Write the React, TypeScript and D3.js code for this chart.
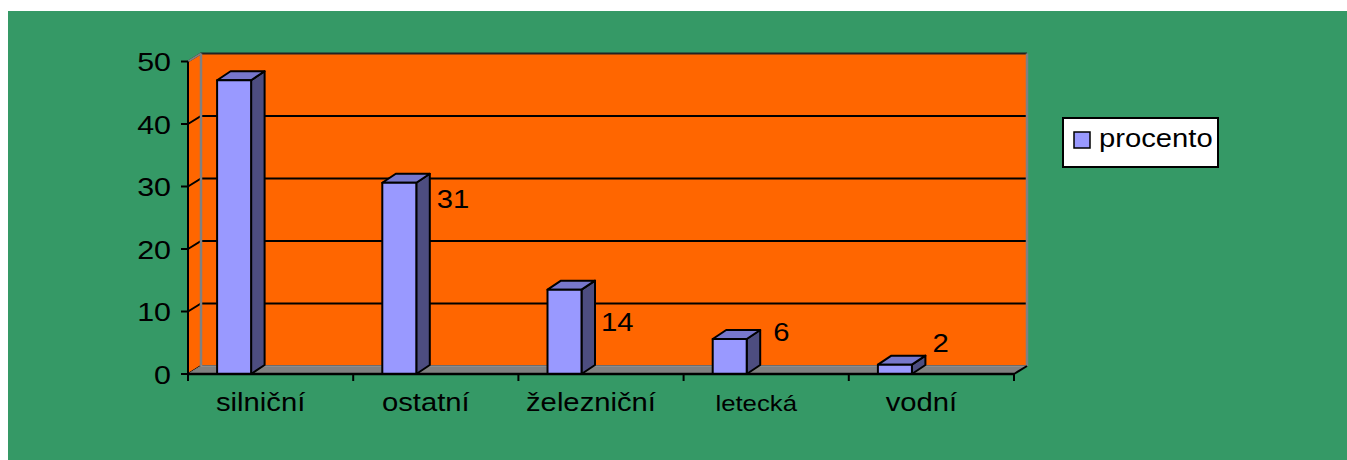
import React from "react";
import * as d3 from "d3";

// ---- data ----
const categories = ["silniční", "ostatní", "železniční", "letecká", "vodní"];
const procento = [47, 30.6, 13.5, 5.6, 1.5];
const labelVisible = [false, true, true, true, true];
const yTicks = [0, 10, 20, 30, 40, 50];
const seriesName = "procento";

// ---- style / layout constants ----
const W = 1347;
const H = 460;
const GREEN = "#359966";
const ORANGE = "#FF6600";
const GRAY = "#808080";
const BAR_FRONT = "#9999FF";
const BAR_SIDE = "#4D4D80";
const BAR_TOP = "#7777CC";
const FONT = "'Liberation Sans', Arial, sans-serif";
const SX = 1.17; // horizontal text stretch seen in the reference
const FS = 26;

const PLOT_LEFT = 188;
const PLOT_RIGHT = 1014;
const PLOT_BOTTOM = 374;
const PLOT_TOP = 61.5;
const WALL_DX = 13;
const WALL_DY = -8;
const BAR_DX = 13.5;
const BAR_DY = -9;
const BAR_OFFSET = -53.5; // front-left of bar relative to band centre
const BAR_W = 34;
// per-label nudges [dx from bar side, dy from bar front top]
const LABEL_NUDGE: [number, number][] = [
  [7, 25],
  [7, 25],
  [6, 41],
  [13, 2],
  [7, -13],
];
const CAT_FS: Record<string, number> = { "letecká": 22 };

export default function App() {
  const x = d3
    .scaleBand<string>()
    .domain(categories)
    .range([PLOT_LEFT, PLOT_RIGHT])
    .padding(0);
  const y = d3.scaleLinear().domain([0, 50]).range([PLOT_BOTTOM, PLOT_TOP]);
  const bw = x.bandwidth();
  const backL = PLOT_LEFT + WALL_DX;
  const backR = PLOT_RIGHT + WALL_DX;
  const backTop = y(50) + WALL_DY;
  const backBottom = y(0) + WALL_DY;
  const fmt = d3.format(".0f");

  const pts = (a: [number, number][]) => a.map((p) => p.join(",")).join(" ");

  const stretchedText = (
    key: string,
    tx: number,
    ty: number,
    txt: string,
    anchor: "start" | "middle" | "end",
    fs: number = FS
  ) => (
    <text
      key={key}
      transform={`translate(${tx},${ty}) scale(${SX},1)`}
      textAnchor={anchor}
      fontFamily={FONT}
      fontSize={fs}
      fill="#000"
    >
      {txt}
    </text>
  );

  return (
    <svg
      width={W}
      height={H}
      style={{ position: "absolute", left: 0, top: 0, display: "block" }}
    >
      <rect x={8} y={11} width={W - 8} height={H - 11} fill={GREEN} />

      {/* back wall */}
      <rect
        x={backL}
        y={backTop}
        width={backR - backL}
        height={backBottom - backTop}
        fill={ORANGE}
      />
      {/* left wall */}
      <polygon
        points={pts([
          [PLOT_LEFT, y(50)],
          [backL, backTop],
          [backL, backBottom],
          [PLOT_LEFT, y(0)],
        ])}
        fill={ORANGE}
      />
      {/* gridlines */}
      {yTicks.map((t) => (
        <polyline
          key={"g" + t}
          points={pts([
            [PLOT_LEFT, y(t)],
            [backL, y(t) + WALL_DY],
            [backR, y(t) + WALL_DY],
          ])}
          fill="none"
          stroke={t === 50 ? "#222" : "#000"}
          strokeWidth={2}
        />
      ))}
      {/* wall edges */}
      <line x1={backL} y1={backTop} x2={backL} y2={backBottom} stroke={GRAY} strokeWidth={2.5} />
      <line x1={PLOT_LEFT} y1={y(50)} x2={backL} y2={backTop} stroke={GRAY} strokeWidth={2} />
      <line x1={backR} y1={backTop} x2={backR} y2={backBottom} stroke={GRAY} strokeWidth={2.5} />

      {/* floor */}
      <polygon
        points={pts([
          [PLOT_LEFT, y(0)],
          [backL, backBottom],
          [backR, backBottom],
          [PLOT_RIGHT, y(0)],
        ])}
        fill={GRAY}
        stroke={GRAY}
        strokeWidth={1}
      />
      <line x1={backL} y1={backBottom} x2={backR} y2={backBottom} stroke="#999" strokeWidth={1} />
      <line x1={PLOT_RIGHT} y1={y(0)} x2={backR} y2={backBottom} stroke="#000" strokeWidth={2} />

      {/* bars */}
      {categories.map((c, i) => {
        const cx = (x(c) as number) + bw / 2;
        const l = cx + BAR_OFFSET;
        const r = l + BAR_W;
        const top = y(procento[i]);
        const bot = y(0);
        return (
          <g key={"b" + c} stroke="#000" strokeWidth={2} strokeLinejoin="round">
            <polygon
              points={pts([
                [r, bot],
                [r, top],
                [r + BAR_DX, top + BAR_DY],
                [r + BAR_DX, bot + BAR_DY],
              ])}
              fill={BAR_SIDE}
            />
            <polygon
              points={pts([
                [l, top],
                [l + BAR_DX, top + BAR_DY],
                [r + BAR_DX, top + BAR_DY],
                [r, top],
              ])}
              fill={BAR_TOP}
            />
            <rect x={l} y={top} width={BAR_W} height={bot - top} fill={BAR_FRONT} />
          </g>
        );
      })}

      {/* axes */}
      <line x1={PLOT_LEFT} y1={y(50)} x2={PLOT_LEFT} y2={y(0) + 1} stroke="#000" strokeWidth={2} />
      <line x1={PLOT_LEFT - 1} y1={y(0)} x2={PLOT_RIGHT} y2={y(0)} stroke="#000" strokeWidth={2.5} />
      {yTicks.map((t) => (
        <line key={"yt" + t} x1={PLOT_LEFT - 7} y1={y(t)} x2={PLOT_LEFT} y2={y(t)} stroke="#000" strokeWidth={2} />
      ))}
      {[...categories.map((c) => x(c) as number), PLOT_RIGHT].map((tx, i) => (
        <line key={"xt" + i} x1={tx} y1={y(0)} x2={tx} y2={y(0) + 7} stroke="#000" strokeWidth={2} />
      ))}

      {/* y tick labels */}
      {yTicks.map((t) => stretchedText("yl" + t, PLOT_LEFT - 17, y(t) + 9.5, String(t), "end"))}

      {/* category labels */}
      {categories.map((c) =>
        stretchedText(
          "cl" + c,
          (x(c) as number) + bw / 2 - 10,
          411,
          c,
          "middle",
          CAT_FS[c] ?? 25
        )
      )}

      {/* data labels */}
      {categories.map((c, i) => {
        if (!labelVisible[i]) return null;
        const cx = (x(c) as number) + bw / 2;
        const sideR = cx + BAR_OFFSET + BAR_W + BAR_DX;
        const [dx, dy] = LABEL_NUDGE[i];
        return stretchedText("dl" + c, sideR + dx, y(procento[i]) + dy, fmt(procento[i]), "start", 25);
      })}

      {/* legend */}
      <rect x={1063} y={118} width={155} height={49} fill="#fff" stroke="#000" strokeWidth={2} />
      <rect x={1074} y={132} width={16} height={16} fill={BAR_FRONT} stroke="#000" strokeWidth={1.5} />
      {stretchedText("leg", 1099, 147, seriesName, "start", 25)}
    </svg>
  );
}
